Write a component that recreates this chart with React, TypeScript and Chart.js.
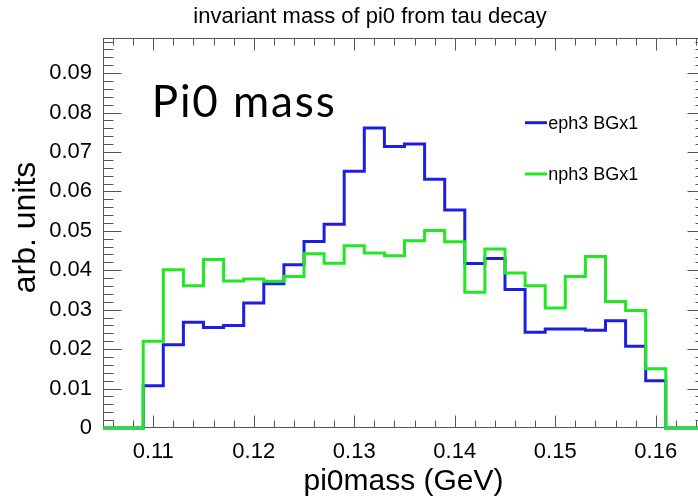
import React, { useEffect, useRef } from 'react';
import { Chart, registerables } from 'chart.js';

Chart.register(...registerables);

// ---------- data ----------
const binEdges = [
  0.109, 0.111, 0.113, 0.115, 0.117, 0.119, 0.121, 0.123, 0.125, 0.127,
  0.129, 0.131, 0.133, 0.135, 0.137, 0.139, 0.141, 0.143, 0.145, 0.147,
  0.149, 0.151, 0.153, 0.155, 0.157, 0.159, 0.161,
];
const ephValues = [
  0.0107, 0.0211, 0.0268, 0.0255, 0.0260, 0.0317, 0.0366, 0.0414, 0.0473, 0.0517,
  0.0651, 0.0761, 0.0714, 0.0720, 0.0631, 0.0553, 0.0417, 0.0430, 0.0351, 0.0243,
  0.0251, 0.0251, 0.0248, 0.0272, 0.0207, 0.0120,
];
const nphValues = [
  0.0220, 0.0401, 0.0361, 0.0427, 0.0373, 0.0378, 0.0372, 0.0384, 0.0442, 0.0418,
  0.0462, 0.0444, 0.0437, 0.0475, 0.0501, 0.0472, 0.0344, 0.0454, 0.0393, 0.0361,
  0.0304, 0.0384, 0.0435, 0.0321, 0.0298, 0.0150,
];
const seriesNames = ['eph3 BGx1', 'nph3 BGx1'];
const xTickValues = [0.11, 0.12, 0.13, 0.14, 0.15, 0.16];
const xTickLabels = ['0.11', '0.12', '0.13', '0.14', '0.15', '0.16'];
const yTickValues = [0, 0.01, 0.02, 0.03, 0.04, 0.05, 0.06, 0.07, 0.08, 0.09];
const yTickLabels = ['0', '0.01', '0.02', '0.03', '0.04', '0.05', '0.06', '0.07', '0.08', '0.09'];
const chartTitle = 'invariant mass of pi0 from tau decay';
const xTitle = 'pi0mass (GeV)';
const yTitle = 'arb. units';
const annotation = 'Pi0 mass';

const X_MIN = 0.105;
const X_MAX = 0.165;
const Y_MIN = 0;
const Y_MAX = 0.0989;

const BLUE = '#1e1ee0';
const GREEN = '#22e822';
const FONT = '"Liberation Sans", Arial, Helvetica, sans-serif';

function histPoints(values: number[]) {
  const pts: { x: number; y: number }[] = [{ x: X_MIN, y: 0 }];
  values.forEach((v, i) => pts.push({ x: binEdges[i], y: v }));
  pts.push({ x: binEdges[values.length], y: 0 });
  pts.push({ x: X_MAX, y: 0 });
  return pts;
}

const framePlugin = {
  id: 'rootFrame',
  beforeDatasetsDraw(chart: any) {
    const { ctx, chartArea: a } = chart;
    const xs = chart.scales.x;
    const ys = chart.scales.y;
    ctx.save();
    ctx.strokeStyle = '#555';
    ctx.lineWidth = 1;
    const L = Math.round(a.left) + 0.5;
    const R = Math.round(a.right) - 0.5;
    const T = Math.round(a.top) + 0.5;
    const B = Math.round(a.bottom) - 0.5;
    ctx.strokeRect(L, T, R - L, B - T);
    ctx.beginPath();
    // x ticks (bottom & top)
    for (let k = 53; k <= 82; k++) {
      const v = k * 0.002;
      const px = Math.round(xs.getPixelForValue(v)) + 0.5;
      const len = k % 5 === 0 ? 12 : 7;
      ctx.moveTo(px, B);
      ctx.lineTo(px, B - len);
      ctx.moveTo(px, T);
      ctx.lineTo(px, T + len);
    }
    // y ticks (left & right)
    for (let k = 0; k <= 49; k++) {
      const v = k * 0.002;
      if (v > Y_MAX) break;
      const py = Math.round(ys.getPixelForValue(v)) + 0.5;
      const len = k % 5 === 0 ? 18 : 10;
      ctx.moveTo(L, py);
      ctx.lineTo(L + len, py);
      ctx.moveTo(R, py);
      ctx.lineTo(R - len, py);
    }
    ctx.stroke();
    ctx.restore();
  },
  afterDraw(chart: any) {
    const { ctx } = chart;
    ctx.save();
    ctx.fillStyle = '#000';
    // title
    ctx.font = `22px ${FONT}`;
    ctx.textAlign = 'center';
    ctx.textBaseline = 'alphabetic';
    ctx.fillText(chartTitle, 370, 22.7);
    // x title
    ctx.font = `30px ${FONT}`;
    ctx.fillText(xTitle, 403.5, 490);
    // y title
    ctx.save();
    ctx.font = `32px ${FONT}`;
    ctx.translate(35, 227.5);
    ctx.rotate(-Math.PI / 2);
    ctx.textAlign = 'center';
    ctx.fillText(yTitle, 0, 0);
    ctx.restore();
    // annotation
    ctx.textAlign = 'left';
    ctx.font = `44px Lato, "Noto Sans", sans-serif`;
    const w = ctx.measureText(annotation).width;
    const target = 183;
    if (w < target) {
      (ctx as any).letterSpacing = `${((target - w) / (annotation.length - 1)).toFixed(2)}px`;
    }
    ctx.fillText(annotation, 151.7, 116.7);
    (ctx as any).letterSpacing = '0px';
    // legend
    const legend = [
      { name: seriesNames[0], color: BLUE, y: 122.7, base: 129.3 },
      { name: seriesNames[1], color: GREEN, y: 174, base: 180 },
    ];
    ctx.font = `18px ${FONT}`;
    legend.forEach((l) => {
      ctx.strokeStyle = l.color;
      ctx.lineWidth = 3;
      ctx.beginPath();
      ctx.moveTo(525, l.y);
      ctx.lineTo(547, l.y);
      ctx.stroke();
      ctx.fillStyle = '#000';
      ctx.fillText(l.name, 548.3, l.base);
    });
    ctx.restore();
  },
};

export default function App() {
  const ref = useRef<HTMLCanvasElement | null>(null);

  useEffect(() => {
    if (!ref.current) return;
    const chart = new Chart(ref.current, {
      type: 'line',
      data: {
        datasets: [
          {
            label: seriesNames[1],
            data: histPoints(nphValues),
            borderColor: GREEN,
            borderWidth: 3,
            pointRadius: 0,
            fill: false,
            stepped: 'before',
            clip: false,
            order: 1,
          },
          {
            label: seriesNames[0],
            data: histPoints(ephValues),
            borderColor: BLUE,
            borderWidth: 3,
            pointRadius: 0,
            fill: false,
            stepped: 'before',
            clip: false,
            order: 2,
          },
        ],
      },
      options: {
        animation: false,
        responsive: false,
        maintainAspectRatio: false,
        devicePixelRatio: 1,
        layout: { padding: { top: 38, right: 6, left: 0, bottom: 0 } },
        plugins: {
          legend: { display: false },
          tooltip: { enabled: false },
          title: { display: false },
        },
        scales: {
          x: {
            type: 'linear',
            min: X_MIN,
            max: X_MAX,
            grid: { display: false, drawTicks: false },
            border: { display: false },
            afterFit: (s: any) => {
              s.height = 74;
            },
            afterBuildTicks: (s: any) => {
              s.ticks = xTickValues.map((v) => ({ value: v }));
            },
            ticks: {
              padding: 11,
              color: '#000',
              maxRotation: 0,
              autoSkip: false,
              font: { family: FONT, size: 22 },
              callback: (_v: any, i: number) => xTickLabels[i],
            },
          },
          y: {
            type: 'linear',
            min: Y_MIN,
            max: Y_MAX,
            grid: { display: false, drawTicks: false },
            border: { display: false },
            afterFit: (s: any) => {
              s.width = 103;
            },
            afterBuildTicks: (s: any) => {
              s.ticks = yTickValues.map((v) => ({ value: v }));
            },
            ticks: {
              padding: 11,
              color: '#000',
              autoSkip: false,
              font: { family: FONT, size: 22 },
              callback: (_v: any, i: number) => yTickLabels[i],
            },
          },
        },
      },
      plugins: [framePlugin],
    });
    return () => chart.destroy();
  }, []);

  return (
    <div
      style={{
        position: 'fixed',
        left: 0,
        top: 0,
        width: 698,
        height: 502,
        overflow: 'hidden',
        background: '#fff',
      }}
    >
      <canvas ref={ref} width={712} height={502} style={{ display: 'block', width: 712, height: 502 }} />
    </div>
  );
}
